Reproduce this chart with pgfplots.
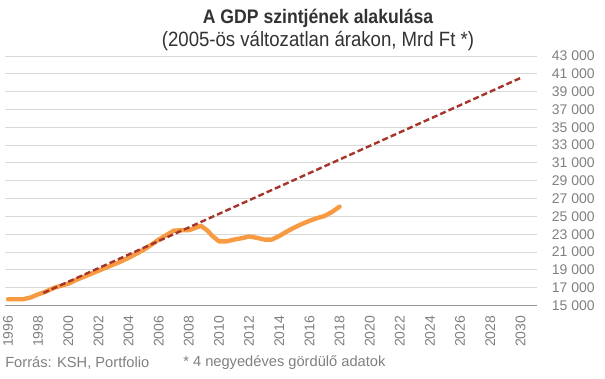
\documentclass[border=0pt]{standalone}
\usepackage{fontspec}
\setmainfont{Liberation Sans}
\newfontfamily\condfont[FakeStretch=0.9]{Liberation Sans}
\usepackage{pgfplots}
\pgfplotsset{compat=1.18}
\definecolor{orangeL}{RGB}{247,154,66}
\definecolor{darkredL}{RGB}{165,52,42}
\definecolor{tickgray}{RGB}{128,128,128}
\definecolor{gridgray}{RGB}{217,217,217}
\definecolor{axisgray}{RGB}{150,150,150}
\definecolor{titlegray}{RGB}{50,50,50}

\pgfplotstableread{
year val
1996.0 15700
1997.0 15700
1997.5 15900
1998.0 16250
1998.5 16550
1999.0 16950
1999.5 17200
2000.0 17450
2000.5 17850
2001.0 18200
2001.5 18550
2002.0 18900
2002.5 19250
2003.0 19600
2003.5 19950
2004.0 20350
2004.5 20800
2005.0 21250
2005.5 21800
2006.0 22400
2006.5 22900
2007.0 23400
2007.5 23450
2008.0 23450
2008.5 23750
2008.8 23950
2009.2 23450
2009.6 22750
2010.0 22200
2010.5 22200
2011.0 22400
2011.5 22550
2012.0 22750
2012.5 22600
2013.0 22400
2013.5 22400
2014.0 22800
2014.5 23300
2015.0 23750
2015.5 24150
2016.0 24500
2016.5 24800
2017.0 25050
2017.5 25500
2018.0 26100
}\gdpdata

\pgfplotstableread{
year val
1998.35 16410
2030.13 40630
}\trenddata

\begin{document}
\begin{tikzpicture}[x=1pt,y=1pt]
\path[use as bounding box] (0,0) rectangle (453.75,283.5);
\begin{axis}[
  at={(3.75pt,54.375pt)}, anchor=south west,
  scale only axis, width=399pt, height=187.1pt,
  xmin=1995.8, xmax=2031.1, ymin=15000, ymax=43000,
  scaled y ticks=false, scaled x ticks=false,
  axis x line*=bottom, axis y line*=right,
  y axis line style={draw=none},
  x axis line style={draw=axisgray, line width=0.75pt, -},
  major tick length=0pt,
  xtick={1996,1998,...,2030},
  ytick={15000,17000,...,43000},
  ymajorgrids, grid style={gridgray, line width=0.75pt},
  tick label style={font=\fontsize{10.5}{12}\selectfont, text=tickgray},
  xticklabel style={rotate=90, anchor=east, inner sep=0pt, /pgf/number format/1000 sep={}},
  xticklabel shift=7.5pt,
  yticklabel style={anchor=west, inner sep=0pt, /pgf/number format/1000 sep={\ }},
  yticklabel shift=11pt,
  /pgf/number format/assume math mode=true,
  clip=false,
]
\addplot[orangeL, line width=3.3pt, line join=round, line cap=round] table[x=year,y=val] {\gdpdata};
\addplot[darkredL, line width=1.8pt, dash pattern=on 4.5pt off 2.3pt] table[x=year,y=val] {\trenddata};
\end{axis}
\node[text=titlegray, font=\condfont\bfseries\fontsize{14.7}{17}\selectfont] at (238.5,270) {A GDP szintjének alakulása};
\node[text=titlegray, font=\condfont\fontsize{15.5}{18}\selectfont] at (238.5,252.5) {(2005-ös változatlan árakon, Mrd Ft *)};
\node[anchor=west, inner sep=0pt, text=tickgray, font=\fontsize{11}{13}\selectfont] at (3.75,11.25) {Forrás: KSH, Portfolio};
\node[anchor=west, inner sep=0pt, text=tickgray, font=\fontsize{11}{13}\selectfont] at (137.25,11.25) {* 4 negyedéves gördülő adatok};
\end{tikzpicture}
\end{document}
